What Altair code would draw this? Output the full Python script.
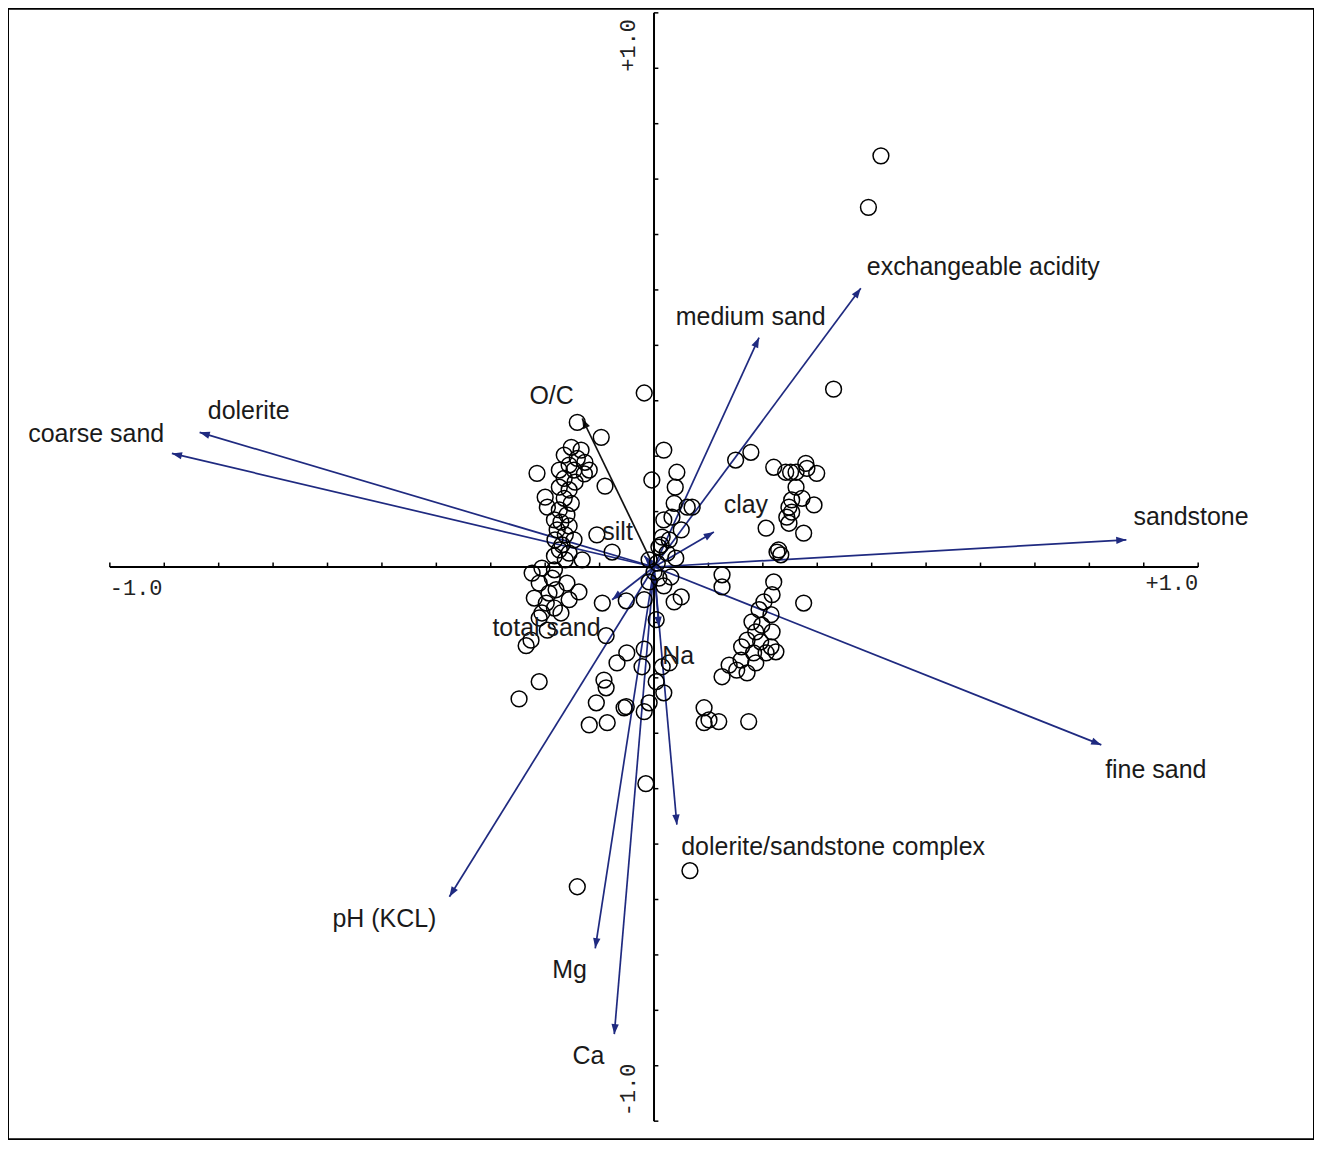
import math
import altair as alt
import pandas as pd

# ---------------- data ----------------
vec_names = ["exchangeable acidity", "medium sand", "O/C", "dolerite", "coarse sand",
             "silt", "clay", "sandstone", "fine sand", "total sand", "Na",
             "dolerite/sandstone complex", "pH (KCL)", "Mg", "Ca"]
vec_x = [0.380, 0.193, -0.132, -0.835, -0.886, -0.018, 0.110, 0.868, 0.822, -0.077,
         0.009, 0.042, -0.376, -0.108, -0.073]
vec_y = [0.503, 0.414, 0.268, 0.243, 0.205, 0.020, 0.063, 0.049, -0.321, -0.059,
         -0.108, -0.465, -0.595, -0.688, -0.843]
label_x = [0.391, 0.040, -0.229, -0.820, -1.150, -0.095, 0.128, 0.881, 0.829, -0.297,
           0.015, 0.050, -0.591, -0.187, -0.150]
label_y = [0.541, 0.452, 0.308, 0.281, 0.240, 0.063, 0.112, 0.090, -0.366, -0.110,
           -0.160, -0.505, -0.636, -0.728, -0.883]
vec_color = ["#1f2a80", "#1f2a80", "#111111", "#1f2a80", "#1f2a80", "#1f2a80", "#1f2a80",
             "#1f2a80", "#1f2a80", "#1f2a80", "#1f2a80", "#1f2a80", "#1f2a80", "#1f2a80",
             "#1f2a80"]

site_x = [0.417, 0.394, 0.330, -0.018, -0.141, 0.066, -0.015, -0.248, -0.211,
          -0.141, -0.097, -0.152, -0.134, -0.165, -0.141, -0.127, -0.156, -0.174, -0.147,
          -0.128, -0.215, -0.165, -0.145, -0.090, -0.174, -0.156, -0.200, -0.165, -0.152,
          -0.196, -0.174, -0.160, -0.171, -0.156, -0.178, -0.163, -0.182, -0.169, -0.174,
          -0.156, -0.183, -0.163, -0.105, -0.077, -0.132, -0.119, -0.183, -0.147,
          -0.224, -0.206, -0.183, -0.211, -0.187, -0.160, -0.138, -0.193, -0.180, -0.198,
          -0.183, -0.206, -0.211, -0.171, -0.196, -0.226, -0.235, -0.095, -0.051, -0.018,
          -0.088, -0.050, -0.068, -0.018, -0.022, -0.092, -0.088, -0.106, -0.119, -0.086,
          -0.055, -0.018, -0.009, -0.220, -0.156,
          0.018, -0.004, 0.042, 0.039, 0.061, 0.037, 0.018, 0.033, 0.050, 0.015, 0.009,
          0.024, 0.006, 0.040, -0.009, 0.000, 0.009, -0.009, 0.018, 0.031, 0.037, 0.050,
          0.004, 0.015, 0.028, 0.004, 0.018, -0.051, 0.070, 0.013, 0.028,
          0.150, 0.178, 0.220, 0.242, 0.251, 0.261, 0.279, 0.281, 0.299, 0.261, 0.253,
          0.272, 0.294, 0.248, 0.253, 0.244, 0.248, 0.275, 0.206, 0.229, 0.233, 0.226,
          0.125, 0.125, 0.220, 0.217, 0.275, 0.202, 0.193, 0.215, 0.180, 0.198, 0.187,
          0.217, 0.171, 0.196, 0.161, 0.215, 0.183, 0.206, 0.224, 0.160, 0.187, 0.138,
          0.152, 0.171, 0.125, 0.092, 0.092, 0.119, 0.174, 0.101]
site_y = [0.742, 0.649, 0.321, 0.314, -0.577, -0.548, -0.391, -0.238, -0.207,
          0.261, 0.234, 0.216, 0.211, 0.202, 0.196, 0.189, 0.184, 0.175, 0.175,
          0.168, 0.169, 0.160, 0.153, 0.146, 0.144, 0.139, 0.126, 0.124, 0.115,
          0.108, 0.103, 0.094, 0.081, 0.074, 0.067, 0.058, 0.049, 0.040, 0.031,
          0.025, 0.020, 0.013, 0.058, 0.027, 0.013, 0.175, 0.085, 0.049,
          -0.011, -0.002, -0.005, -0.029, -0.020, -0.029, -0.045, -0.047, -0.041, -0.065,
          -0.074, -0.083, -0.092, -0.083, -0.114, -0.132, -0.142, -0.065, -0.061, -0.059,
          -0.124, -0.155, -0.173, -0.148, -0.180, -0.204, -0.218, -0.245, -0.285, -0.281,
          -0.254, -0.261, -0.245, -0.056, -0.059,
          0.211, 0.157, 0.171, 0.144, 0.108, 0.115, 0.085, 0.090, 0.067, 0.054, 0.036,
          0.025, 0.007, 0.016, 0.013, -0.009, -0.020, -0.027, -0.034, -0.018, -0.063, -0.054,
          -0.095, -0.180, -0.173, -0.207, -0.227, -0.252, 0.108, 0.040, 0.049,
          0.193, 0.207, 0.180, 0.171, 0.171, 0.171, 0.187, 0.178, 0.169, 0.144, 0.121,
          0.124, 0.112, 0.108, 0.099, 0.090, 0.079, 0.061, 0.070, 0.031, 0.022, 0.027,
          -0.014, -0.036, -0.027, -0.050, -0.065, -0.063, -0.077, -0.086, -0.099, -0.105, -0.117,
          -0.117, -0.132, -0.135, -0.144, -0.144, -0.155, -0.155, -0.153, -0.168, -0.173, -0.177,
          -0.186, -0.191, -0.198, -0.254, -0.281, -0.279, -0.279, -0.276]

tick_values = [-1.0, -0.9, -0.8, -0.7, -0.6, -0.5, -0.4, -0.3, -0.2, -0.1, 0.0,
               0.1, 0.2, 0.3, 0.4, 0.5, 0.6, 0.7, 0.8, 0.9, 1.0]
tick_label_text = ["-1.0", "+1.0", "+1.0", "-1.0"]
tick_label_x = [-1.0, 1.0, -0.047, -0.047]
tick_label_y = [-0.038, -0.029, 0.989, -0.991]

# ---------------- layout / scales ----------------
W, H = 1308, 1132
X_DOM = [-1.18716, 1.21284]
Y_DOM = [-1.03243, 1.00721]
xs = alt.Scale(domain=X_DOM, nice=False, zero=False)
ys = alt.Scale(domain=Y_DOM, nice=False, zero=False)
px_per_x = W / (X_DOM[1] - X_DOM[0])
px_per_y = H / (Y_DOM[1] - Y_DOM[0])
TL = 0.008  # tick length in axis units

vec = pd.DataFrame({"name": vec_names, "x": vec_x, "y": vec_y,
                    "lx": label_x, "ly": label_y, "color": vec_color})
vec["x0"] = 0.0
vec["y0"] = 0.0
vec["angle"] = [(math.degrees(math.atan2(a * px_per_x, b * px_per_y)) + 360) % 360
                for a, b in zip(vec_x, vec_y)]

sites = pd.DataFrame({"x": site_x, "y": site_y})

axes_df = pd.DataFrame({"x": [-1.0, 0.0], "y": [0.0, -1.0], "x2": [1.0, 0.0], "y2": [0.0, 1.0]})
ticks_df = pd.DataFrame({
    "x": tick_values + [0.0] * len(tick_values),
    "y": [0.0] * len(tick_values) + tick_values,
    "x2": tick_values + [TL] * len(tick_values),
    "y2": [TL] * len(tick_values) + tick_values,
})
tl_df = pd.DataFrame({"t": tick_label_text, "x": tick_label_x, "y": tick_label_y})

X = lambda f: alt.X(f, scale=xs, axis=None)
Y = lambda f: alt.Y(f, scale=ys, axis=None)

axis_lines = alt.Chart(axes_df).mark_rule(color="black", strokeWidth=2).encode(
    x=X("x:Q"), y=Y("y:Q"), x2="x2:Q", y2="y2:Q")
ticks = alt.Chart(ticks_df).mark_rule(color="black", strokeWidth=1.5).encode(
    x=X("x:Q"), y=Y("y:Q"), x2="x2:Q", y2="y2:Q")

vec_lines = alt.Chart(vec).mark_rule(strokeWidth=1.7).encode(
    x=X("x0:Q"), y=Y("y0:Q"), x2="x:Q", y2="y:Q",
    color=alt.Color("color:N", scale=None))
heads = alt.Chart(vec).mark_point(
    shape="M0,0L0.8,2.2L-0.8,2.2Z", filled=True, size=85, opacity=1).encode(
    x=X("x:Q"), y=Y("y:Q"), angle=alt.Angle("angle:Q", scale=None),
    color=alt.Color("color:N", scale=None))

pts = alt.Chart(sites).mark_point(shape="circle", filled=False, size=250,
                                  color="black", strokeWidth=1.5, opacity=1).encode(
    x=X("x:Q"), y=Y("y:Q"))

labels = alt.Chart(vec).mark_text(align="left", baseline="middle", fontSize=25,
                                  font="Liberation Sans", color="#1a1a1a").encode(
    x=X("lx:Q"), y=Y("ly:Q"), text="name:N")

mono = dict(fontSize=22, font="Liberation Mono", color="#222", baseline="middle")
hl = alt.Chart(tl_df.iloc[[0]]).mark_text(align="left", **mono).encode(
    x=X("x:Q"), y=Y("y:Q"), text="t:N")
hr = alt.Chart(tl_df.iloc[[1]]).mark_text(align="right", **mono).encode(
    x=X("x:Q"), y=Y("y:Q"), text="t:N")
vt = alt.Chart(tl_df.iloc[[2]]).mark_text(align="right", angle=270, **mono).encode(
    x=X("x:Q"), y=Y("y:Q"), text="t:N")
vb = alt.Chart(tl_df.iloc[[3]]).mark_text(align="left", angle=270, **mono).encode(
    x=X("x:Q"), y=Y("y:Q"), text="t:N")

chart = alt.layer(axis_lines, ticks, vec_lines, heads, pts, labels, hl, hr, vt, vb).properties(
    width=W, height=H, padding=0, autosize=alt.AutoSizeParams(type="none"),
    background="white"
).configure_view(stroke="black", strokeWidth=2)

chart.save("out.html", embed_options={"renderer": "svg", "actions": False})
